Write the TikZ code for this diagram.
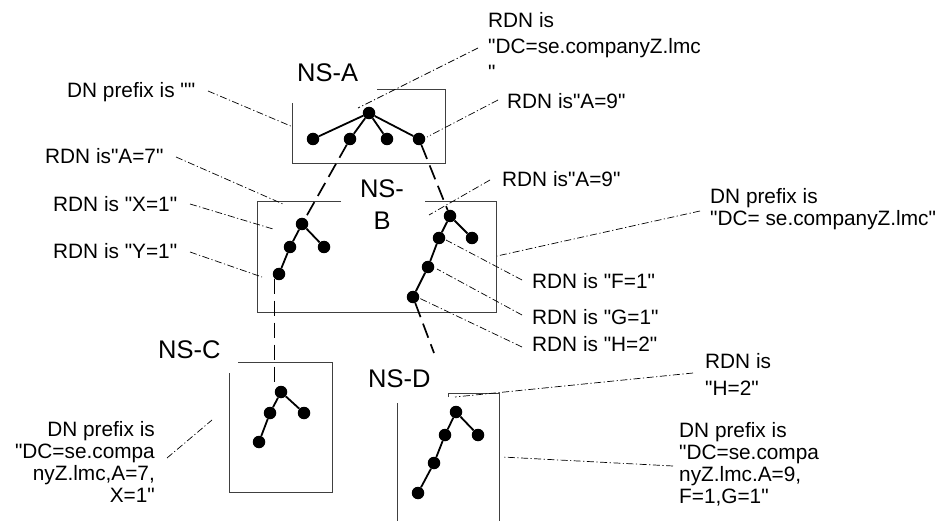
\documentclass[tikz,border=0pt]{standalone}
\usepackage{fontspec}
\setmainfont{Liberation Sans}
\newfontfamily\lsans{Liberation Sans}
\begin{document}
\begin{tikzpicture}[x=1pt,y=-1pt,
  dot/.style={circle,fill=black,inner sep=0pt,minimum size=12.5pt},
  edge/.style={line width=1.8pt},
  link/.style={line width=1.7pt,dash pattern=on 15pt off 7pt},
  frame/.style={line width=0.9pt,draw=black!75},
  leader/.style={line width=0.7pt,dash pattern=on 7pt off 2.5pt on 1.2pt off 2.5pt},
  lbl/.style={inner sep=0pt,anchor=base west,font=\lsans\fontsize{20.8}{22}\selectfont},
  ns/.style={inner sep=0pt,anchor=base west,font=\lsans\fontsize{25.5}{32}\selectfont}]
\useasboundingbox[fill=white] (0,0) rectangle (942,521);

% frames
\draw[frame] (377,89) -- (445,89) -- (445,163) -- (292,163) -- (292,103);
\draw[frame] (341,201) -- (257,201) -- (257,312) -- (496,312) -- (496,201) -- (425,201);
\draw[frame] (238,362) -- (332,362) -- (332,492) -- (229,492) -- (229,373);
\draw[frame] (448,397) -- (448,393) -- (499,393) -- (499,521);
\draw[frame] (397,403) -- (397,521);

% namespace labels (multi-line nodes: base = last line)
\node[ns] (nsA) at (297,82) {NS-A};
\node[ns,align=center,anchor=base] (nsB) at (382,230) {NS-\\B};
\node[ns] (nsC) at (158,358) {NS-C};
\node[ns] (nsD) at (368,387) {NS-D};

% text labels
\node[lbl] (t1) at (67,98) {DN prefix is ""};
\node[lbl] (t2) at (45,164) {RDN is"A=7"};
\node[lbl] (t3) at (53,212) {RDN is "X=1"};
\node[lbl] (t4) at (53,259) {RDN is "Y=1"};
\node[lbl,align=left,font=\lsans\fontsize{20.8}{26}\selectfont] (t5) at (488,80) {RDN is\\"DC=se.companyZ.lmc\\"};
\node[lbl] (t6) at (507,109) {RDN is"A=9"};
\node[lbl] (t7) at (502,187) {RDN is"A=9"};
\node[lbl,align=left] (t8) at (710,226) {DN prefix is\\"DC= se.companyZ.lmc"};
\node[lbl] (t9) at (532,288) {RDN is "F=1"};
\node[lbl] (t10) at (532,324) {RDN is "G=1"};
\node[lbl] (t11) at (532,351) {RDN is "H=2"};
\node[lbl,align=left,font=\lsans\fontsize{20.8}{27}\selectfont] (t12) at (705,395) {RDN is\\"H=2"};
\node[lbl,align=left] (t13) at (679,503) {DN prefix is\\"DC=se.compa\\nyZ.lmc.A=9,\\F=1,G=1"};
\node[lbl,align=right,anchor=base east] (t14) at (155,502) {DN prefix is\\"DC=se.compa\\nyZ.lmc,A=7,\\X=1"};

% leader coordinates
\coordinate (l1a) at (208,91);  \coordinate (l1b) at (293,127);
\coordinate (l2a) at (478,48);  \coordinate (l2b) at (358,108);
\coordinate (l3a) at (498,100); \coordinate (l3b) at (427,137);
\coordinate (l4a) at (490,180); \coordinate (l4b) at (429,215);
\coordinate (l5a) at (176,157); \coordinate (l5b) at (283,204);
\coordinate (l6a) at (190,204); \coordinate (l6b) at (273,229);
\coordinate (l7a) at (190,252); \coordinate (l7b) at (262,277);
\coordinate (l8a) at (700,211); \coordinate (l8b) at (497,256);
\coordinate (l9a) at (522,280); \coordinate (l9b) at (446,240);
\coordinate (l10a) at (522,315); \coordinate (l10b) at (437,269);
\coordinate (l11a) at (522,347); \coordinate (l11b) at (419,298);
\coordinate (l12a) at (693,373); \coordinate (l12b) at (455,397);
\coordinate (l13a) at (673,466); \coordinate (l13b) at (502,457);
\coordinate (l14a) at (167,458); \coordinate (l14b) at (212,420);
\foreach \i in {1,...,14} {\draw[leader] (l\i a) -- (l\i b);}

% dots
\node[dot] (a0) at (369,113) {};
\node[dot] (a1) at (313,139) {};
\node[dot] (a2) at (350,139) {};
\node[dot] (a3) at (387,139) {};
\node[dot] (a4) at (419,139) {};
\node[dot] (bl0) at (302,224) {};
\node[dot] (bl1) at (290,247) {};
\node[dot] (bl2) at (324,247) {};
\node[dot] (bl3) at (279,274) {};
\node[dot] (br0) at (450,216) {};
\node[dot] (br1) at (439,238) {};
\node[dot] (br2) at (472,238) {};
\node[dot] (br3) at (428,267) {};
\node[dot] (br4) at (413,297) {};
\node[dot] (c0) at (281,392) {};
\node[dot] (c1) at (270,413) {};
\node[dot] (c2) at (304,413) {};
\node[dot] (c3) at (259,442) {};
\node[dot] (d0) at (456,412) {};
\node[dot] (d1) at (445,435) {};
\node[dot] (d2) at (478,435) {};
\node[dot] (d3) at (434,463) {};
\node[dot] (d4) at (418,493) {};
\coordinate (dEnd) at (434,353);

% tree edges
\draw[edge] (a0) -- (a1); \draw[edge] (a0) -- (a2);
\draw[edge] (a0) -- (a3); \draw[edge] (a0) -- (a4);
\draw[edge] (bl0) -- (bl1); \draw[edge] (bl1) -- (bl3); \draw[edge] (bl0) -- (bl2);
\draw[edge] (br0) -- (br1); \draw[edge] (br0) -- (br2);
\draw[edge] (br1) -- (br3); \draw[edge] (br3) -- (br4);
\draw[edge] (c0) -- (c1); \draw[edge] (c1) -- (c3); \draw[edge] (c0) -- (c2);
\draw[edge] (d0) -- (d1); \draw[edge] (d0) -- (d2);
\draw[edge] (d1) -- (d3); \draw[edge] (d3) -- (d4);

% dashed links between namespaces
\draw[link] (a2) -- (bl0);
\draw[link] (a4) -- (br0);
\draw[link] (bl3.south west) -- (bl3.south west |- c0.north west);
\draw[link] (br4) -- (dEnd);
\end{tikzpicture}
\end{document}
